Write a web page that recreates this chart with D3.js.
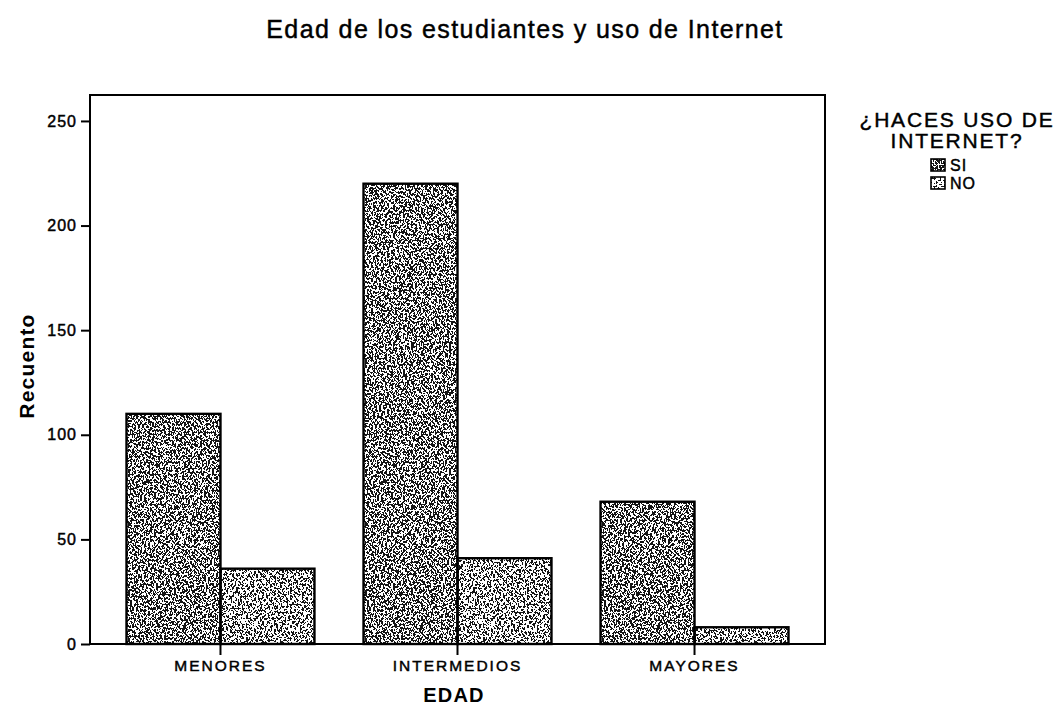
<!DOCTYPE html>
<html><head><meta charset="utf-8">
<script src="https://cdn.jsdelivr.net/npm/d3@7"></script>
<style>body{margin:0;background:#fff}svg{font-family:"Liberation Sans",Arial,sans-serif}
text.w{stroke:#000;stroke-width:0.45px}</style>
</head><body>
<svg id="c" width="1060" height="705"></svg>
<script>
const categories = ["MENORES", "INTERMEDIOS", "MAYORES"];
const seriesNames = ["SI", "NO"];
const siValues = [110, 220, 68];
const noValues = [36, 41, 8];
const yTicks = [0, 50, 100, 150, 200, 250];

const svg = d3.select("#c");
const m = {l: 90, r: 825, t: 95, b: 644};
const FF = "Liberation Sans, Arial, sans-serif";

const defs = svg.append("defs");
function texture(id, thr, seed) {
  const f = defs.append("filter").attr("id", id).attr("x", 0).attr("y", 0).attr("width", 1).attr("height", 1)
    .attr("color-interpolation-filters", "sRGB");
  f.append("feTurbulence").attr("type", "fractalNoise").attr("baseFrequency", 0.5).attr("numOctaves", 3).attr("seed", seed).attr("result", "n");
  const k = 5;
  f.append("feColorMatrix").attr("in", "n").attr("type", "matrix")
    .attr("values", `0 0 0 0 0  0 0 0 0 0  0 0 0 0 0  0 0 0 ${k} ${0.5 - k * thr}`).attr("result", "a");
  f.append("feComponentTransfer").attr("in", "a").attr("result", "t")
    .append("feFuncA").attr("type", "discrete").attr("tableValues", "0 1");
  f.append("feComposite").attr("in", "t").attr("in2", "SourceGraphic").attr("operator", "in").attr("result", "tt");
  f.append("feFlood").attr("flood-color", "#fff").attr("result", "w");
  f.append("feComposite").attr("in", "w").attr("in2", "SourceGraphic").attr("operator", "in").attr("result", "ww");
  f.append("feColorMatrix").attr("in", "tt").attr("type", "matrix")
    .attr("values", "0 0 0 0 0.08  0 0 0 0 0.08  0 0 0 0 0.08  0 0 0 1 0").attr("result", "blk");
  f.append("feMerge").selectAll("feMergeNode").data(["ww", "blk"]).join("feMergeNode").attr("in", d => d);
}
texture("tSI", 0.5, 3);
texture("tNO", 0.535, 11);

const x0 = d3.scaleBand().domain(categories).range([m.l, m.r]).paddingInner(0.207).paddingOuter(0.154);
const x1 = d3.scaleBand().domain(seriesNames).range([0, x0.bandwidth()]);
const y = d3.scaleLinear().domain([0, 262.4]).range([m.b, m.t]);
const fills = {SI: "#000", NO: "#000"};

const data = categories.map((c, i) => ({c, v: [{s: "SI", v: siValues[i]}, {s: "NO", v: noValues[i]}]}));

const g = svg.append("g");
const cats = g.selectAll("g.cat").data(data).join("g").attr("class", "cat")
  .attr("transform", d => `translate(${x0(d.c)},0)`);
cats.selectAll("rect.f").data(d => d.v).join("rect").attr("class", "f")
  .attr("x", d => x1(d.s)).attr("width", x1.bandwidth())
  .attr("y", d => y(d.v)).attr("height", d => y(0) - y(d.v))
  .attr("fill", d => fills[d.s])
  .attr("filter", d => `url(#t${d.s})`);
cats.selectAll("rect.o").data(d => d.v).join("rect").attr("class", "o")
  .attr("x", d => x1(d.s)).attr("width", x1.bandwidth())
  .attr("y", d => y(d.v)).attr("height", d => y(0) - y(d.v))
  .attr("fill", "none").attr("stroke", "#000").attr("stroke-width", 2.4);

// frame
svg.append("rect").attr("x", m.l).attr("y", m.t).attr("width", m.r - m.l).attr("height", m.b - m.t)
  .attr("fill", "none").attr("stroke", "#000").attr("stroke-width", 2);

// y axis
const ya = svg.append("g").attr("transform", `translate(${m.l},0)`)
  .call(d3.axisLeft(y).tickValues(yTicks).tickSize(9).tickPadding(4));
ya.select(".domain").remove();
ya.selectAll("line").attr("stroke-width", 2);
ya.selectAll("text").attr("class", "w").attr("font-size", 16).attr("letter-spacing", 1).attr("font-family", FF).attr("fill", "#000");

// x axis
const xa = svg.append("g").attr("transform", `translate(0,${m.b})`)
  .call(d3.axisBottom(x0).tickSize(11).tickPadding(5));
xa.select(".domain").remove();
xa.selectAll("line").attr("stroke-width", 2);
xa.selectAll("text").attr("class", "w").attr("font-size", 15.5).attr("letter-spacing", 2).attr("font-family", FF).attr("fill", "#000");

// titles
svg.append("text").attr("class", "w").attr("x", 525).attr("y", 38).attr("text-anchor", "middle").attr("font-size", 25).attr("letter-spacing", 1.4).text("Edad de los estudiantes y uso de Internet");
svg.append("text").attr("transform", "translate(34,366) rotate(-90)").attr("text-anchor", "middle").attr("font-size", 21).attr("letter-spacing", 1.2).attr("font-weight", "bold").text("Recuento");
svg.append("text").attr("x", 454).attr("y", 702).attr("text-anchor", "middle").attr("font-size", 20).attr("letter-spacing", 1.2).attr("font-weight", "bold").text("EDAD");

// legend
const lg = svg.append("g");
lg.append("text").attr("class", "w").attr("x", 957).attr("y", 127).attr("text-anchor", "middle").attr("font-size", 21).attr("letter-spacing", 1.8).text("¿HACES USO DE");
lg.append("text").attr("class", "w").attr("x", 957).attr("y", 148).attr("text-anchor", "middle").attr("font-size", 21).attr("letter-spacing", 1.8).text("INTERNET?");
seriesNames.forEach((s, i) => {
  const yy = 159 + i * 18;
  lg.append("rect").attr("x", 931).attr("y", yy).attr("width", 14).attr("height", 12)
    .attr("fill", fills[s]).attr("filter", `url(#t${s})`);
  lg.append("rect").attr("x", 931).attr("y", yy).attr("width", 14).attr("height", 12)
    .attr("fill", "none").attr("stroke", "#000").attr("stroke-width", 1.6);
  lg.append("text").attr("class", "w").attr("x", 950).attr("y", yy + 12).attr("font-size", 16).attr("letter-spacing", 1).text(s);
});
</script>
</body></html>
